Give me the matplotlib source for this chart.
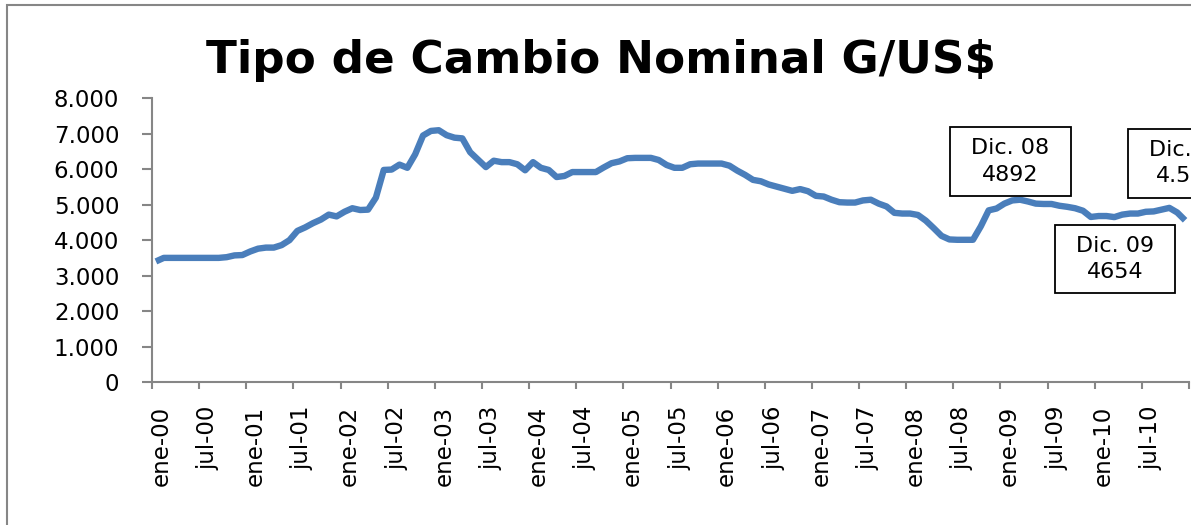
import matplotlib.pyplot as plt
import matplotlib.transforms as mtransforms
from matplotlib.path import Path
from matplotlib.patches import Rectangle

# tipo de cambio nominal mensual (G por US$), ene-2000 a dic-2010
tc_2000 = [3400, 3500, 3500, 3500, 3500, 3500, 3500, 3500, 3500, 3520, 3570, 3580]
tc_2001 = [3680, 3760, 3790, 3790, 3860, 4000, 4260, 4360, 4480, 4580, 4720, 4670]
tc_2002 = [4800, 4900, 4850, 4860, 5200, 5980, 5990, 6130, 6040, 6420, 6950, 7080]
tc_2003 = [7100, 6960, 6890, 6870, 6480, 6270, 6060, 6240, 6200, 6200, 6140, 5970]
tc_2004 = [6200, 6040, 5980, 5780, 5810, 5920, 5920, 5920, 5920, 6050, 6170, 6220]
tc_2005 = [6310, 6320, 6320, 6320, 6260, 6120, 6040, 6040, 6140, 6160, 6160, 6160]
tc_2006 = [6160, 6100, 5960, 5840, 5700, 5660, 5570, 5510, 5450, 5390, 5440, 5380]
tc_2007 = [5250, 5230, 5140, 5070, 5060, 5060, 5120, 5140, 5030, 4950, 4770, 4750]
tc_2008 = [4750, 4710, 4550, 4340, 4120, 4020, 4010, 4010, 4010, 4390, 4840, 4892]
tc_2009 = [5030, 5120, 5140, 5090, 5030, 5020, 5020, 4970, 4940, 4900, 4830, 4654]
tc_2010 = [4680, 4680, 4650, 4720, 4750, 4750, 4800, 4810, 4860, 4910, 4780, 4560]

meses_labels = ["ene-00", "jul-00", "ene-01", "jul-01", "ene-02", "jul-02",
                "ene-03", "jul-03", "ene-04", "jul-04", "ene-05", "jul-05",
                "ene-06", "jul-06", "ene-07", "jul-07", "ene-08", "jul-08",
                "ene-09", "jul-09", "ene-10", "jul-10"]
y_ticks = [0, 1000, 2000, 3000, 4000, 5000, 6000, 7000, 8000]
y_labels = ["0", "1.000", "2.000", "3.000", "4.000", "5.000", "6.000", "7.000", "8.000"]

# etiquetas: (indice del mes, texto, desplazamiento en pixeles)
notas = [(107, "Dic. 08\n4892", (14, 47)),
         (119, "Dic. 09\n4654", (24, -42)),
         (131, "Dic. 10\n4.558", (3, 57))]

serie = (tc_2000 + tc_2001 + tc_2002 + tc_2003 + tc_2004 + tc_2005 +
         tc_2006 + tc_2007 + tc_2008 + tc_2009 + tc_2010)
x = [i + 0.5 for i in range(len(serie))]

gris = '#868686'
azul = '#4A7EBB'


def caja(x0, y0, width, height, mutation_size):
    # rectangulo con mas relleno horizontal que vertical
    px = 0.95 * mutation_size
    py = 0.5 * mutation_size
    x0, y0 = x0 - px, y0 - py
    x1, y1 = x0 + width + 2 * px, y0 + height + 2 * py
    return Path([(x0, y0), (x1, y0), (x1, y1), (x0, y1), (x0, y0)], closed=True)


fig = plt.figure(figsize=(11.91, 5.25), dpi=100)
ax = fig.add_axes([152 / 1191, 143 / 525, 1037 / 1191, 283.7 / 525])

ax.plot(x, serie, color=azul, linewidth=4.6, solid_joinstyle='round', solid_capstyle='butt')

ax.set_xlim(0, 132)
ax.set_ylim(0, 8000)
ax.set_yticks(y_ticks)
ax.set_yticklabels(y_labels)
ax.set_xticks(list(range(0, 133, 6)))
ax.set_xticklabels(meses_labels + [""], rotation=90, va='top', ha='center')

for s in ['top', 'right']:
    ax.spines[s].set_visible(False)
for s in ['left', 'bottom']:
    ax.spines[s].set_color(gris)
    ax.spines[s].set_linewidth(1.5)

ax.tick_params(axis='y', colors=gris, length=7.5, width=1.5, pad=16,
               labelsize=16.5, labelcolor='black')
ax.tick_params(axis='x', colors=gris, length=5, width=1.5, pad=12,
               labelsize=16.5, labelcolor='black')

desplaza = mtransforms.ScaledTranslation(9 / 100, 0, fig.dpi_scale_trans)
for lbl in ax.get_xticklabels():
    lbl.set_transform(lbl.get_transform() + desplaza)

for mes, texto, off in notas:
    ax.annotate(texto, xy=(x[mes], serie[mes]), xytext=off,
                textcoords='offset pixels', ha='center', va='center',
                fontsize=16, linespacing=1.4, annotation_clip=False,
                bbox=dict(boxstyle=caja, fc='white', ec='black', lw=1.3))

fig.text(0.5046, 1 - 73 / 525, "Tipo de Cambio Nominal G/US$",
         ha='center', va='baseline', fontsize=32.6, fontweight='bold')

borde = Rectangle((7 / 1191, -0.05), 1.1, 1.0405, transform=fig.transFigure,
                  fill=False, edgecolor=gris, linewidth=1.5, clip_on=False)
fig.add_artist(borde)

fig.savefig('out.png', dpi=100)
